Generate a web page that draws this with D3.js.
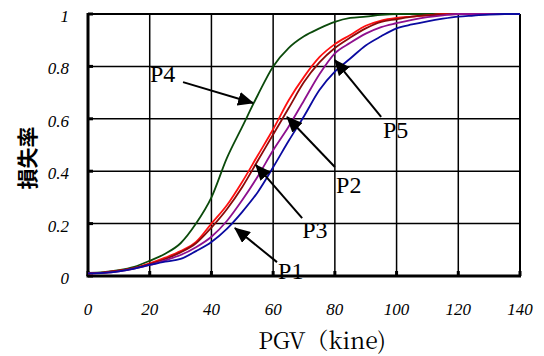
<!DOCTYPE html>
<html><head><meta charset="utf-8">
<script src="https://cdn.jsdelivr.net/npm/d3@7/dist/d3.min.js"></script>
<style>body{margin:0;background:#fff}svg{display:block}
.serif{font-family:"Liberation Serif","Times New Roman",Times,serif;}
.mincho{font-family:"Noto Serif CJK JP","Liberation Serif",serif;}
.gothic{font-family:"Noto Sans CJK JP",sans-serif;}
</style>
</head><body><div id="chart"></div>
<script>
const pgv = [0,5,10,15,20,25,30,35,40,45,50,55,60,65,70,75,80,85,90,95,100,105,110,115,120,125,130,135,140];
const p4 = [0.012,0.015,0.022,0.035,0.058,0.085,0.125,0.20,0.30,0.45,0.57,0.69,0.80,0.87,0.915,0.945,0.97,0.985,0.99,0.997,1,1,1,1,1,1,1,1,1];
const pRed = [0.01,0.013,0.02,0.03,0.048,0.07,0.095,0.13,0.20,0.27,0.36,0.46,0.56,0.67,0.76,0.835,0.885,0.92,0.955,0.975,0.985,0.99,0.995,1,1,1,1,1,1];
const pDark = [0.01,0.013,0.02,0.03,0.045,0.065,0.09,0.125,0.185,0.255,0.34,0.44,0.54,0.64,0.74,0.815,0.87,0.91,0.945,0.97,0.98,0.99,0.995,0.998,1,1,1,1,1];
const pPurple = [0.01,0.012,0.018,0.028,0.042,0.06,0.08,0.11,0.15,0.21,0.29,0.38,0.48,0.57,0.67,0.77,0.85,0.89,0.925,0.95,0.965,0.978,0.988,0.995,1,1,1,1,1];
const p1 = [0.01,0.012,0.018,0.028,0.042,0.055,0.065,0.095,0.13,0.18,0.245,0.32,0.415,0.515,0.61,0.71,0.78,0.83,0.88,0.915,0.945,0.96,0.972,0.982,0.99,0.994,0.998,1,1];
const seriesNames = ["P4","P3","P2","P5","P1"];
const seriesColors = ["#0b4a0b","#ff1010","#8b0a0a","#8e108e","#0a0aa0"];
const seriesValues = [p4, pRed, pDark, pPurple, p1];
const xTicks = [0,20,40,60,80,100,120,140];
const yTicks = [0,0.2,0.4,0.6,0.8,1];
const yTickLabels = ["0","0.2","0.4","0.6","0.8","1"];
// annotations in data units: label position, arrow tail, arrow head
const annLabels = ["P4","P5","P2","P3","P1"];
const annText = [[20.1,0.74],[95.6,0.527],[80.4,0.317],[69.4,0.145],[61.6,-0.011]];
const annTail = [[30.8,0.74],[95,0.607],[80,0.416],[69.4,0.221],[61.25,0.053]];
const annHead = [[53.5,0.66],[80,0.824],[64.5,0.607],[54.4,0.424],[47.6,0.183]];

const W=544,H=356, m={l:88,t:14,r:24,b:80};
const iw=W-m.l-m.r, ih=H-m.t-m.b;
const svg=d3.select("#chart").append("svg").attr("width",W).attr("height",H);
const x=d3.scaleLinear().domain([0,140]).range([m.l,m.l+iw]);
const y=d3.scaleLinear().domain([0,1]).range([m.t+ih,m.t]);

const defs=svg.append("defs");
defs.append("marker").attr("id","ah").attr("markerUnits","userSpaceOnUse")
  .attr("viewBox","0 0 16 14").attr("refX",15).attr("refY",7)
  .attr("markerWidth",16).attr("markerHeight",14).attr("orient","auto")
  .append("path").attr("d","M0,0 L16,7 L0,14 Z").attr("fill","#000");

// grid
const g=svg.append("g");
g.selectAll(".vx").data(xTicks.slice(1,-1)).join("line")
  .attr("x1",d=>x(d)).attr("x2",d=>x(d)).attr("y1",y(0)).attr("y2",y(1))
  .attr("stroke","#000").attr("stroke-width",1.5);
g.selectAll(".hy").data(yTicks.slice(1,-1)).join("line")
  .attr("y1",d=>y(d)).attr("y2",d=>y(d)).attr("x1",x(0)).attr("x2",x(140))
  .attr("stroke","#000").attr("stroke-width",1.5);
// inward ticks
g.selectAll(".tx").data(xTicks).join("line")
  .attr("x1",d=>x(d)).attr("x2",d=>x(d)).attr("y1",y(0)).attr("y2",y(0)-5)
  .attr("stroke","#000").attr("stroke-width",3);
g.selectAll(".ty").data(yTicks).join("line")
  .attr("y1",d=>y(d)).attr("y2",d=>y(d)).attr("x1",x(0)).attr("x2",x(0)+5)
  .attr("stroke","#000").attr("stroke-width",3);
// frame
g.append("line").attr("x1",x(0)).attr("x2",x(140)).attr("y1",y(1)).attr("y2",y(1)).attr("stroke","#000").attr("stroke-width",2);
g.append("line").attr("x1",x(140)).attr("x2",x(140)).attr("y1",y(0)).attr("y2",y(1)).attr("stroke","#000").attr("stroke-width",2);
g.append("line").attr("x1",x(0)-1.5).attr("x2",x(140)+1).attr("y1",y(0)).attr("y2",y(0)).attr("stroke","#000").attr("stroke-width",3);
g.append("line").attr("x1",x(0)).attr("x2",x(0)).attr("y1",y(0)).attr("y2",y(1)-1).attr("stroke","#000").attr("stroke-width",3);

// curves
const line=d3.line().x((d,i)=>x(pgv[i])).y(d=>y(d)).curve(d3.curveMonotoneX);
svg.append("g").selectAll("path").data(seriesValues).join("path")
  .attr("d",d=>line(d)).attr("fill","none")
  .attr("stroke",(d,i)=>seriesColors[i]).attr("stroke-width",1.8);

// tick labels
svg.append("g").selectAll("text").data(xTicks).join("text").attr("class","serif")
  .attr("x",d=>x(d)).attr("y",315).attr("text-anchor","middle")
  .attr("font-style","italic").attr("font-size",17).text(d=>d);
svg.append("g").selectAll("text").data(yTicks).join("text").attr("class","serif")
  .attr("x",69).attr("y",d=>y(d)+8).attr("text-anchor","end")
  .attr("font-style","italic").attr("font-size",17).text((d,i)=>yTickLabels[i]);

// axis titles
svg.append("text").attr("class","mincho").attr("x",322).attr("y",349).attr("text-anchor","middle")
  .attr("font-size",23).text("PGV（kine)");
svg.append("text").attr("class","gothic").attr("transform","translate(35,158) rotate(-90)").attr("text-anchor","middle")
  .attr("font-weight","bold").attr("font-size",21)
  .text("損失率");

// annotations
const ag=svg.append("g");
ag.selectAll("line").data(annTail).join("line")
  .attr("x1",d=>x(d[0])).attr("y1",d=>y(d[1]))
  .attr("x2",(d,i)=>x(annHead[i][0])).attr("y2",(d,i)=>y(annHead[i][1]))
  .attr("stroke","#000").attr("stroke-width",2).attr("marker-end","url(#ah)");
ag.selectAll("text").data(annText).join("text").attr("class","serif")
  .attr("x",d=>x(d[0])).attr("y",d=>y(d[1]))
  .attr("font-size",24).text((d,i)=>annLabels[i]);
</script></body></html>
